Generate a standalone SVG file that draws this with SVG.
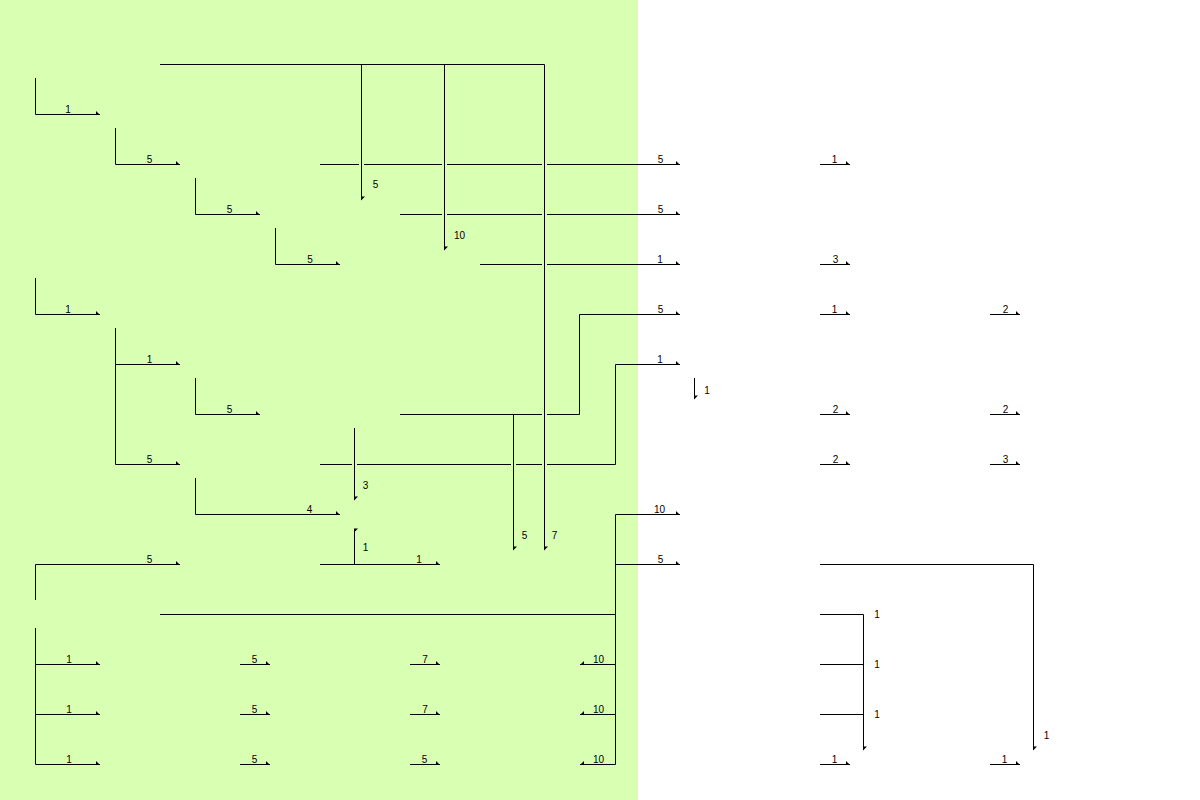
<svg xmlns="http://www.w3.org/2000/svg" width="1200" height="800" viewBox="0 0 1200 800">
<defs>
<style>
.c{fill:none;stroke:#000;stroke-width:1}
.r{marker-end:url(#mr)}
.l{marker-end:url(#ml)}
.d{marker-end:url(#md)}
.u{marker-end:url(#mu)}
text{font-family:"Liberation Sans",Arial,sans-serif;font-size:10px;fill:#000;text-anchor:middle}
</style>
<marker id="mr" markerUnits="userSpaceOnUse" viewBox="-6 -6 12 12" markerWidth="12" markerHeight="12" refX="0" refY="0" orient="0"><path d="M-4,-3.5 L0,0.5 L-4,0.5 Z" fill="#000"/></marker>
<marker id="ml" markerUnits="userSpaceOnUse" viewBox="-6 -6 12 12" markerWidth="12" markerHeight="12" refX="0" refY="0" orient="0"><path d="M4,-3.5 L0,0.5 L4,0.5 Z" fill="#000"/></marker>
<marker id="md" markerUnits="userSpaceOnUse" viewBox="-6 -6 12 12" markerWidth="12" markerHeight="12" refX="0" refY="0" orient="0"><path d="M-0.5,-3.5 L3.5,-3.5 L-0.5,0.5 Z" fill="#000"/></marker>
<marker id="mu" markerUnits="userSpaceOnUse" viewBox="-6 -6 12 12" markerWidth="12" markerHeight="12" refX="0" refY="0" orient="0"><path d="M-0.5,-0.5 L3.5,-0.5 L-0.5,3.5 Z" fill="#000"/></marker>
</defs>
<rect x="0" y="0" width="1200" height="800" fill="#fff"/>
<rect x="0" y="0" width="638" height="800" fill="#d9ffb3"/>
<g id="connectors">
<path class="c r" d="M35.5,78 V114.5 H100"/>
<path class="c r" d="M115.5,128 V164.5 H180"/>
<path class="c r" d="M195.5,178 V214.5 H260"/>
<path class="c r" d="M275.5,228 V264.5 H340"/>
<path class="c r" d="M35.5,278 V314.5 H100"/>
<path class="c r" d="M115.5,328 V364.5 H180"/>
<path class="c r" d="M115.5,364.5 V464.5 H180"/>
<path class="c r" d="M195.5,378 V414.5 H260"/>
<path class="c r" d="M195.5,478 V514.5 H340"/>
<path class="c r" d="M35.5,600 V564.5 H180"/>
<path class="c r" d="M35.5,628 V664.5 H100"/>
<path class="c r" d="M35.5,664.5 V714.5 H100"/>
<path class="c r" d="M35.5,714.5 V764.5 H100"/>
<path class="c r" d="M240,664.5 H270"/>
<path class="c r" d="M410,664.5 H440"/>
<path class="c r" d="M240,714.5 H270"/>
<path class="c r" d="M410,714.5 H440"/>
<path class="c r" d="M240,764.5 H270"/>
<path class="c r" d="M410,764.5 H440"/>
<path class="c r" d="M160,614.5 H615.5 V514.5 H680"/>
<path class="c r" d="M615.5,564.5 H680"/>
<path class="c l" d="M615.5,614.5 V664.5 H580"/>
<path class="c l" d="M615.5,664.5 V714.5 H580"/>
<path class="c l" d="M615.5,714.5 V764.5 H580"/>
<path class="c d" d="M160,64.5 H544.5 V550"/>
<path class="c d" d="M361.5,64.5 V200"/>
<path class="c d" d="M444.5,64.5 V250"/>
<path class="c r" d="M320,164.5 H359 M364,164.5 H442 M447,164.5 H542 M547,164.5 H680"/>
<path class="c r" d="M400,214.5 H442 M447,214.5 H542 M547,214.5 H680"/>
<path class="c r" d="M480,264.5 H542 M547,264.5 H680"/>
<path class="c r" d="M400,414.5 H542 M547,414.5 H579.5 V314.5 H680"/>
<path class="c d" d="M513.5,414.5 V550"/>
<path class="c r" d="M320,464.5 H352 M357,464.5 H511 M516,464.5 H542 M547,464.5 H615.5 V364.5 H680"/>
<path class="c d" d="M354.5,428 V500"/>
<path class="c r" d="M320,564.5 H440"/>
<path class="c u" d="M354.5,564.5 V529"/>
<path class="c d" d="M694.5,378 V399"/>
<path class="c r" d="M820,164.5 H850"/>
<path class="c r" d="M820,264.5 H850"/>
<path class="c r" d="M820,314.5 H850"/>
<path class="c r" d="M990,314.5 H1020"/>
<path class="c r" d="M820,414.5 H850"/>
<path class="c r" d="M990,414.5 H1020"/>
<path class="c r" d="M820,464.5 H850"/>
<path class="c r" d="M990,464.5 H1020"/>
<path class="c r" d="M820,764.5 H850"/>
<path class="c r" d="M990,764.5 H1020"/>
<path class="c d" d="M820,564.5 H1033.5 V750"/>
<path class="c d" d="M820,614.5 H863.5 V750"/>
<path class="c" d="M820,664.5 H863.5"/>
<path class="c" d="M820,714.5 H863.5"/>
</g>
<g id="labels">
<text x="68" y="112.5">1</text>
<text x="149.5" y="162.5">5</text>
<text x="229.5" y="212.5">5</text>
<text x="310" y="262.5">5</text>
<text x="375.5" y="187.5">5</text>
<text x="459.5" y="238.5">10</text>
<text x="660.5" y="162.5">5</text>
<text x="660.5" y="212.5">5</text>
<text x="660" y="262.5">1</text>
<text x="660.5" y="312.5">5</text>
<text x="660" y="362.5">1</text>
<text x="659.5" y="512.5">10</text>
<text x="660.5" y="562.5">5</text>
<text x="68" y="312.5">1</text>
<text x="149.5" y="362.5">1</text>
<text x="229.5" y="412.5">5</text>
<text x="149.5" y="462.5">5</text>
<text x="309.5" y="512.5">4</text>
<text x="365.5" y="488.5">3</text>
<text x="365.5" y="550.5">1</text>
<text x="149.5" y="562.5">5</text>
<text x="419" y="562.5">1</text>
<text x="524.5" y="539">5</text>
<text x="554.5" y="539">7</text>
<text x="707" y="393.5">1</text>
<text x="834.5" y="162.5">1</text>
<text x="835.5" y="262.5">3</text>
<text x="834.5" y="312.5">1</text>
<text x="1005.5" y="312.5">2</text>
<text x="835.5" y="412.5">2</text>
<text x="1005.5" y="412.5">2</text>
<text x="835.5" y="462.5">2</text>
<text x="1005.5" y="462.5">3</text>
<text x="834.5" y="762.5">1</text>
<text x="1004.5" y="762.5">1</text>
<text x="877" y="617.5">1</text>
<text x="877" y="668">1</text>
<text x="877" y="718">1</text>
<text x="1046.5" y="738.5">1</text>
<text x="69" y="662.5">1</text>
<text x="69" y="712.5">1</text>
<text x="69" y="762.5">1</text>
<text x="254.5" y="662.5">5</text>
<text x="254.5" y="712.5">5</text>
<text x="254.5" y="762.5">5</text>
<text x="425" y="662.5">7</text>
<text x="425" y="712.5">7</text>
<text x="424.5" y="762.5">5</text>
<text x="598.5" y="662.5">10</text>
<text x="598.5" y="712.5">10</text>
<text x="598.5" y="762.5">10</text>
</g>
</svg>
